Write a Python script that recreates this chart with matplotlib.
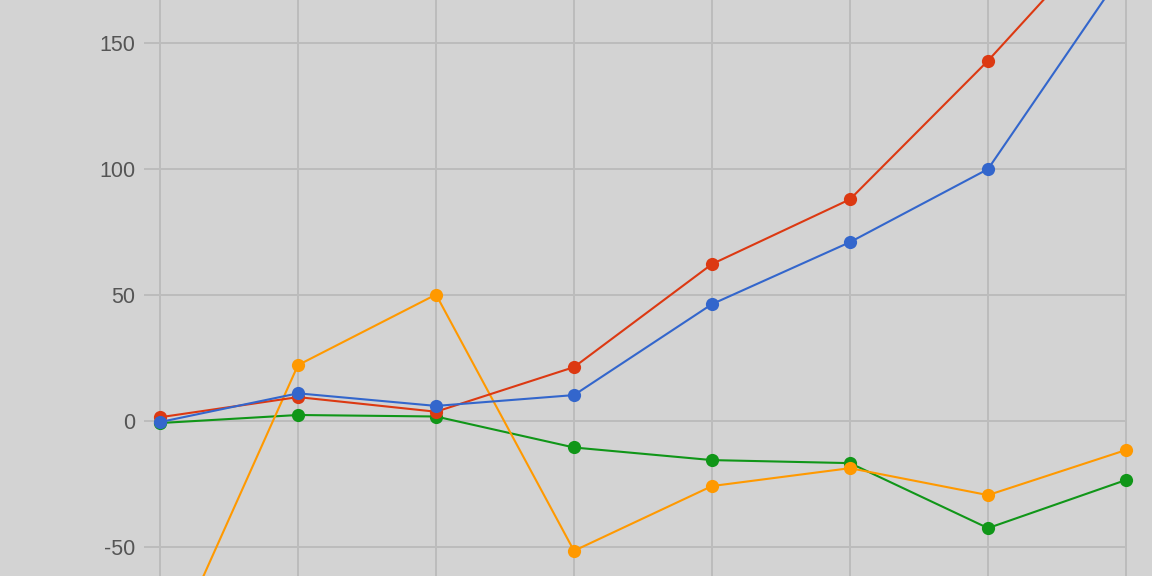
import matplotlib
matplotlib.use("Agg")
import matplotlib.pyplot as plt

# values (8 points per series)
x_pos = [0, 1, 2, 3, 4, 5, 6, 7]
red_vals = [1.5, 9.5, 3.7, 21.4, 62.3, 88.0, 143.0, 203.0]
blue_vals = [-0.4, 11.0, 6.0, 10.3, 46.4, 71.0, 100.0, 180.0]
green_vals = [-0.8, 2.4, 1.8, -10.5, -15.5, -16.7, -42.5, -23.4]
orange_vals = [-100.0, 22.2, 50.2, -51.5, -25.8, -18.7, -29.4, -11.5]
y_ticks = [-50, 0, 50, 100, 150]

BG = "#d3d3d3"
GRID = "#bcbcbc"

fig = plt.figure(figsize=(11.52, 5.76), dpi=100, facecolor=BG)
# plot area: x0 at px 160, x7 at px 1126, gridlines start at px 144
left_px, right_px = 144, 1126
ax = fig.add_axes([left_px / 1152, 0, (right_px - left_px) / 1152, 1])
ax.set_facecolor(BG)

pad = 16 / 138
ax.set_xlim(-pad, 7)
ax.set_ylim(-61.5, 167.1)

for v in y_ticks:
    ax.axhline(v, color=GRID, lw=1.4, zorder=0)
for xv in x_pos:
    ax.axvline(xv, color=GRID, lw=1.4, zorder=0, clip_on=False)

series = [
    (green_vals, "#109618"),
    (orange_vals, "#ff9900"),
    (red_vals, "#dc3912"),
    (blue_vals, "#3366cc"),
]
for vals, col in series:
    ax.plot(x_pos, vals, color=col, lw=1.5, marker="o", markersize=9.5,
            markeredgewidth=0, clip_on=False, zorder=3)

for s in ax.spines.values():
    s.set_visible(False)
ax.set_xticks([])
ax.set_yticks(y_ticks)
ax.set_yticklabels([str(v) for v in y_ticks], fontsize=15.5,
                   color="#555555", family="Liberation Sans")
ax.tick_params(axis="y", length=0, pad=6)

fig.savefig("out.png", dpi=100, facecolor=BG)
